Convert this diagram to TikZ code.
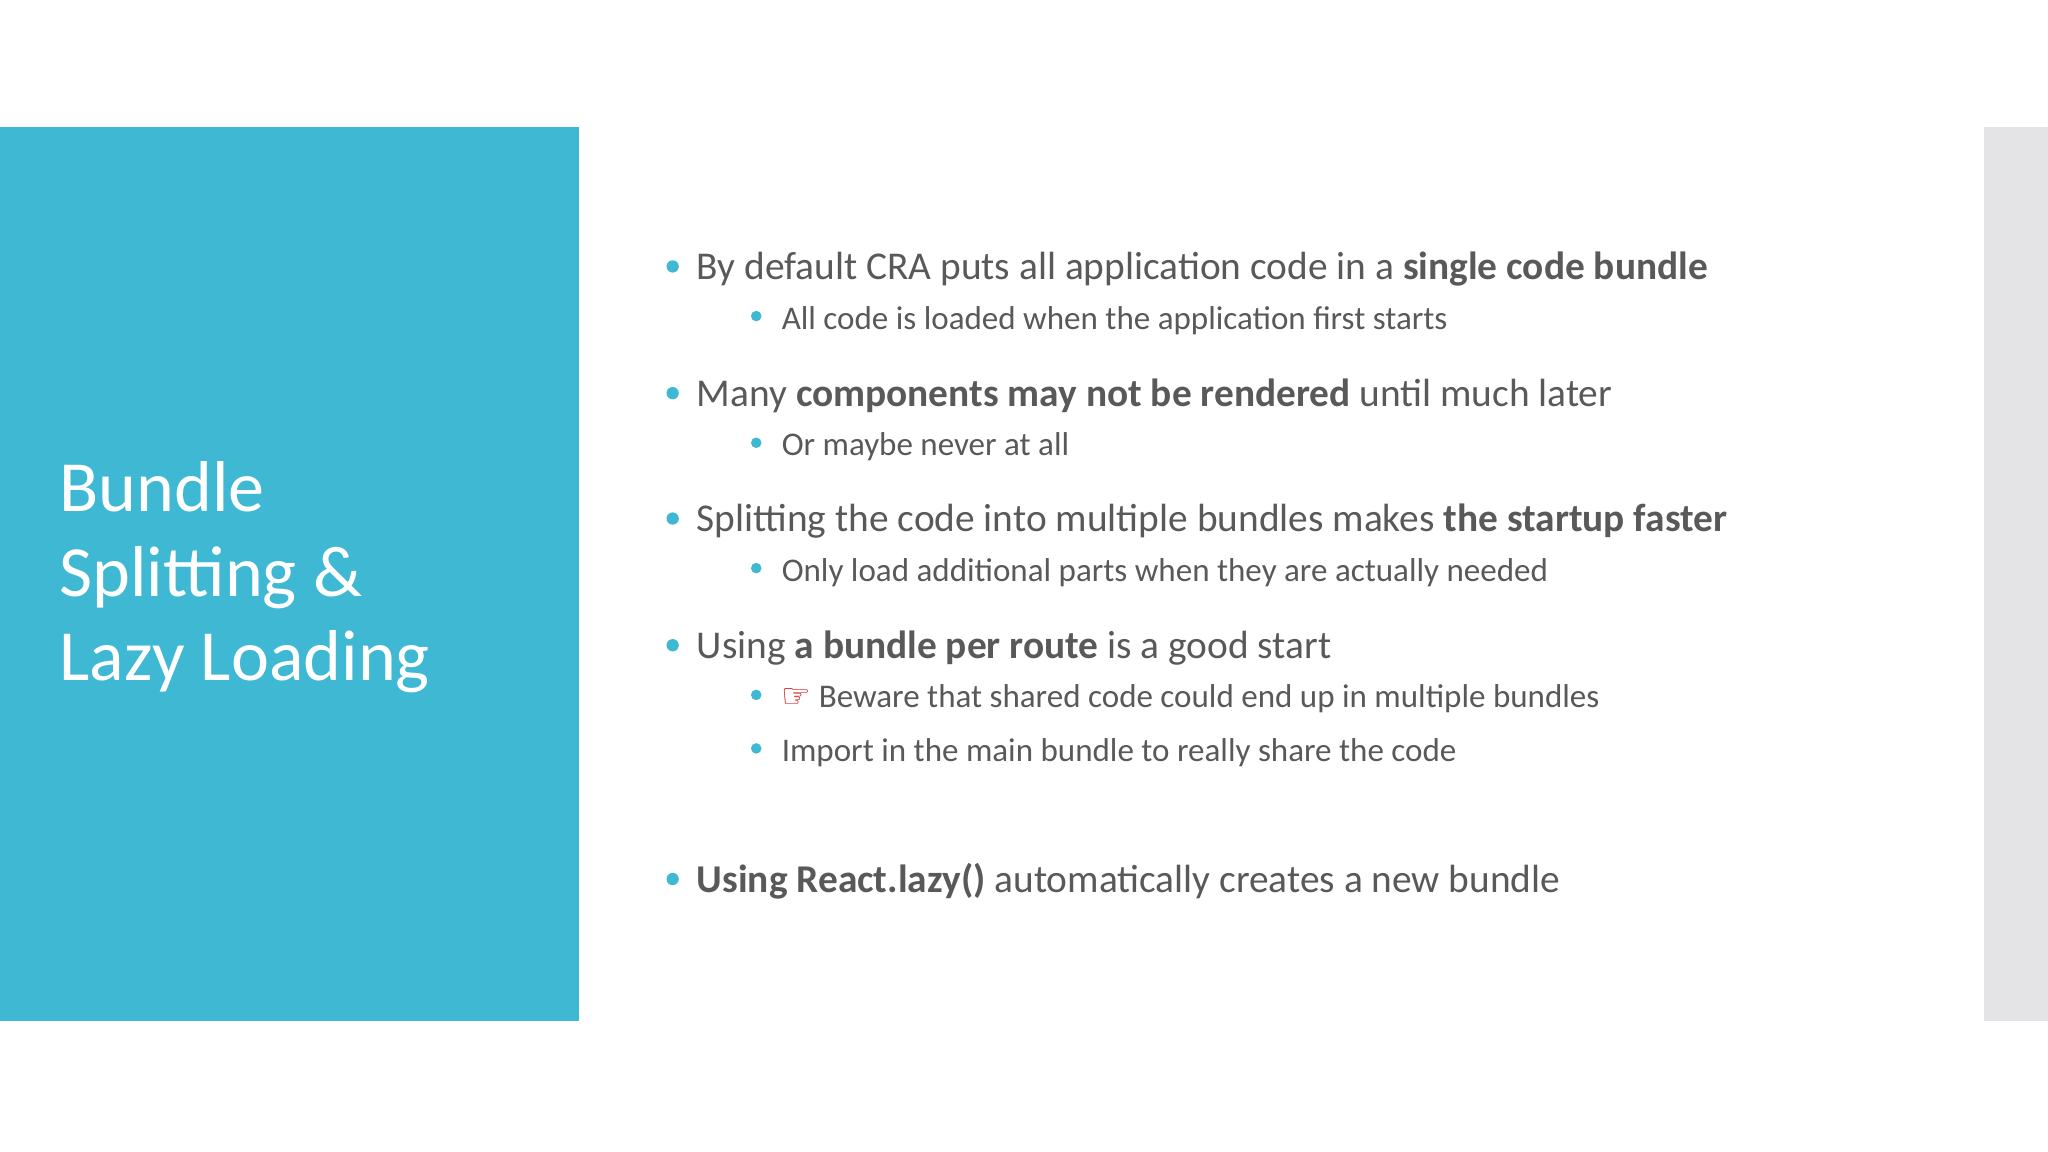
\documentclass[tikz,border=0pt]{standalone}
\usepackage{fontspec}
\setmainfont{Carlito}
\newfontfamily\symfont{DejaVu Sans}
\definecolor{blu}{HTML}{3FB8D4}
\definecolor{txt}{HTML}{595959}
\definecolor{gry}{HTML}{E4E4E6}
\begin{document}
\begin{tikzpicture}[x=0.013061cm,y=-0.013061cm,
  main/.style={anchor=base west,inner sep=0,text=txt,font=\fontsize{11.2}{13}\selectfont},
  sub/.style={anchor=base west,inner sep=0,text=txt,font=\fontsize{9.4}{11}\selectfont},
  ttl/.style={anchor=base west,inner sep=0,text=white,font=\fontsize{20.5}{24}\selectfont},
  dot/.style={fill=blu,circle,inner sep=0,minimum size=3.5pt}]
\useasboundingbox (0,0) rectangle (1568,882);
\fill[white] (0,0) rectangle (1568,882);
\fill[blu] (0,97) rectangle (443,782);
\fill[gry] (1519,97) rectangle (1568,782);
\node[ttl] (t1) at (45,392) {Bundle};
\node[ttl] (t2) at (45,457) {Splitting \&};
\node[ttl] (t3) at (45,521) {Lazy Loading};
\foreach \y/\n in {204/a,301/b,397/c,494/d,673/e} \node[dot] (d\n) at (515,\y) {};
\foreach \y/\n in {242/a,339/b,435/c,532/d,573/f} \node[dot,minimum size=3pt] (s\n) at (579,\y) {};
\node[main] (m1) at (533,214) {By default CRA puts all application code in a \textbf{single code bundle}};
\node[sub] (n1) at (598,252) {All code is loaded when the application first starts};
\node[main] (m2) at (533,311) {Many \textbf{components may not be rendered} until much later};
\node[sub] (n2) at (598,349) {Or maybe never at all};
\node[main] (m3) at (533,407) {Splitting the code into multiple bundles makes \textbf{the startup faster}};
\node[sub] (n3) at (598,445) {Only load additional parts when they are actually needed};
\node[main] (m4) at (533,504) {Using \textbf{a bundle per route} is a good start};
\node[sub] (n4) at (598,542) {{\symfont\color{red!80!black}☞} Beware that shared code could end up in multiple bundles};
\node[sub] (n5) at (598,583) {Import in the main bundle to really share the code};
\node[main] (m5) at (533,683) {\textbf{Using React.lazy()} automatically creates a new bundle};
\end{tikzpicture}
\end{document}
